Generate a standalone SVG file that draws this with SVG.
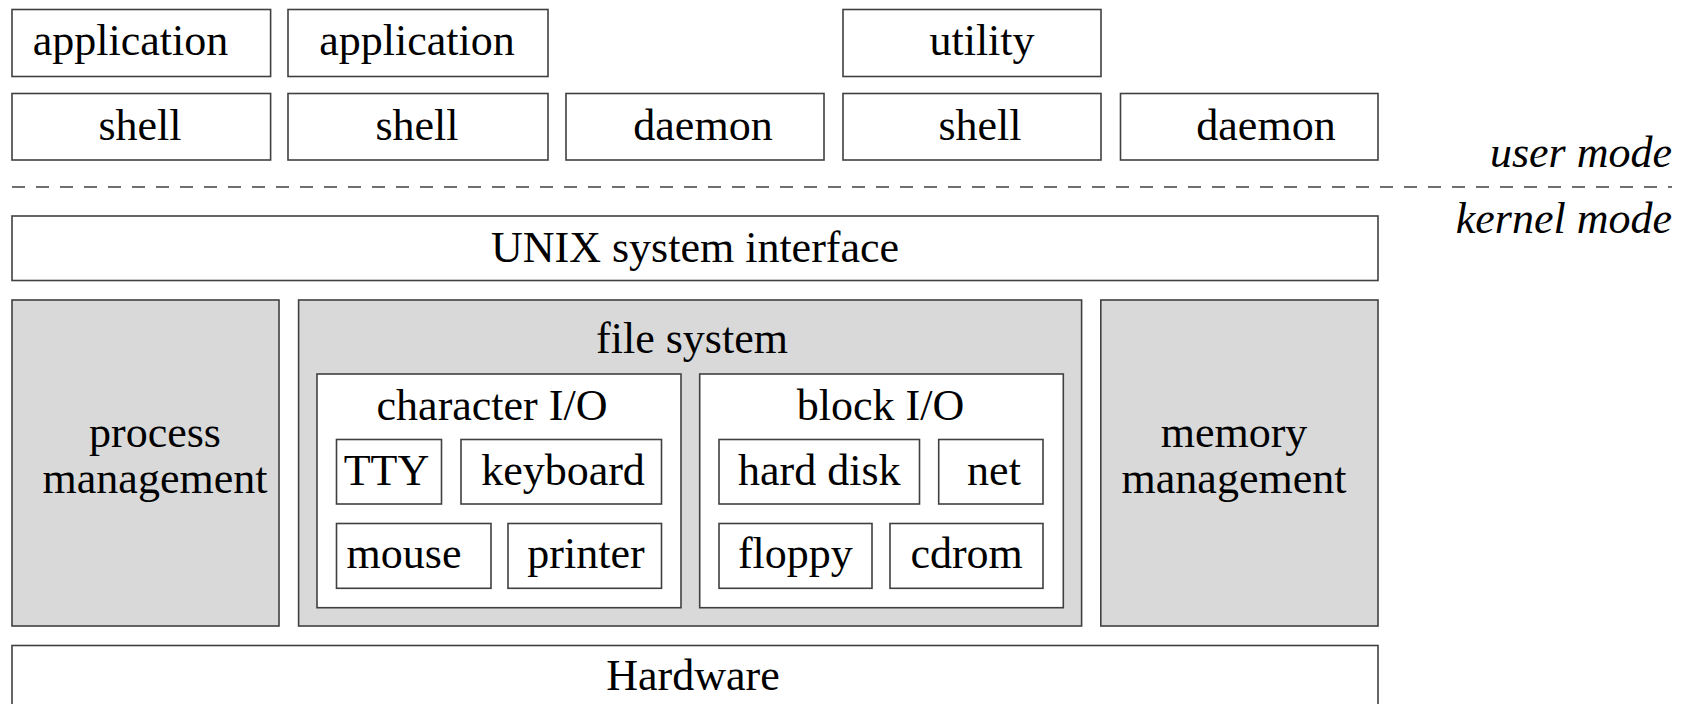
<svg xmlns="http://www.w3.org/2000/svg" width="1684" height="704" viewBox="0 0 1684 704">
  <style>
    .box { fill: #ffffff; stroke: #404040; stroke-width: 1.6; }
    .grey { fill: #d9d9d9; stroke: #404040; stroke-width: 1.6; }
    .lbl { font-family: "Times New Roman", Times, "Liberation Serif", "Nimbus Roman", FreeSerif, "DejaVu Serif", serif; font-size: 44px; fill: #000; text-anchor: middle; }
    .mode { font-style: italic; text-anchor: end; }
    .sep { stroke: #404040; stroke-width: 1.6; stroke-dasharray: 13 11; fill: none; }
  </style>
  <rect width="1684" height="704" fill="#ffffff"/>

  <!-- user space programs -->
  <g id="application-1"><rect class="box" x="12" y="9.5" width="258.6" height="67"/><text class="lbl" x="130.5" y="55">application</text></g>
  <g id="application-2"><rect class="box" x="288" y="9.5" width="260" height="67"/><text class="lbl" x="417" y="55">application</text></g>
  <g id="utility"><rect class="box" x="843" y="9.5" width="258" height="67"/><text class="lbl" x="982" y="55">utility</text></g>

  <g id="shell-1"><rect class="box" x="12" y="93.5" width="258.6" height="66.5"/><text class="lbl" x="140" y="140">shell</text></g>
  <g id="shell-2"><rect class="box" x="288" y="93.5" width="260" height="66.5"/><text class="lbl" x="417" y="140">shell</text></g>
  <g id="daemon-1"><rect class="box" x="566" y="93.5" width="258" height="66.5"/><text class="lbl" x="703" y="140">daemon</text></g>
  <g id="shell-3"><rect class="box" x="843" y="93.5" width="258" height="66.5"/><text class="lbl" x="980" y="140">shell</text></g>
  <g id="daemon-2"><rect class="box" x="1120.5" y="93.5" width="257.5" height="66.5"/><text class="lbl" x="1266" y="140">daemon</text></g>

  <!-- user / kernel boundary -->
  <g id="connectors">
    <line class="sep" x1="12" y1="187" x2="1672" y2="187"/>
  </g>
  <g id="mode-labels">
    <text class="lbl mode" x="1672" y="167">user mode</text>
    <text class="lbl mode" x="1672" y="233">kernel mode</text>
  </g>

  <!-- kernel -->
  <g id="system-interface"><rect class="box" x="12" y="216" width="1366" height="64.5"/><text class="lbl" x="695" y="261.5">UNIX system interface</text></g>

  <g id="process-management">
    <rect class="grey" x="12" y="300" width="267" height="326"/>
    <text class="lbl" x="155" y="446.5">process</text>
    <text class="lbl" x="155" y="493">management</text>
  </g>

  <g id="file-system">
    <rect class="grey" x="298.6" y="300" width="783" height="326"/>
    <text class="lbl" x="692" y="353">file system</text>
  </g>

  <g id="character-io">
    <rect class="box" x="317" y="374" width="364" height="233.7"/>
    <text class="lbl" x="492" y="420">character I/O</text>
  </g>
  <g id="tty"><rect class="box" x="336.5" y="439.5" width="105" height="64.5"/><text class="lbl" x="386.5" y="485">TTY</text></g>
  <g id="keyboard"><rect class="box" x="461" y="439.5" width="200.5" height="64.5"/><text class="lbl" x="563" y="485">keyboard</text></g>
  <g id="mouse"><rect class="box" x="336.5" y="523.5" width="154.5" height="64.8"/><text class="lbl" x="404" y="568">mouse</text></g>
  <g id="printer"><rect class="box" x="508" y="523.5" width="153.5" height="64.8"/><text class="lbl" x="586" y="568">printer</text></g>

  <g id="block-io">
    <rect class="box" x="699.7" y="374" width="363.6" height="233.7"/>
    <text class="lbl" x="880.5" y="420">block I/O</text>
  </g>
  <g id="hard-disk"><rect class="box" x="719" y="439.5" width="200.5" height="64.5"/><text class="lbl" x="819.3" y="484.5">hard disk</text></g>
  <g id="net"><rect class="box" x="938.7" y="439.5" width="104.3" height="64.5"/><text class="lbl" x="994" y="484.5">net</text></g>
  <g id="floppy"><rect class="box" x="719" y="523.5" width="153" height="64.8"/><text class="lbl" x="795.4" y="568">floppy</text></g>
  <g id="cdrom"><rect class="box" x="890" y="523.5" width="153" height="64.8"/><text class="lbl" x="966.6" y="568">cdrom</text></g>

  <g id="memory-management">
    <rect class="grey" x="1100.8" y="300" width="277.2" height="326"/>
    <text class="lbl" x="1234" y="446.5">memory</text>
    <text class="lbl" x="1234" y="493">management</text>
  </g>

  <g id="hardware"><rect class="box" x="12" y="645.5" width="1366" height="80"/><text class="lbl" x="693" y="690">Hardware</text></g>
</svg>
